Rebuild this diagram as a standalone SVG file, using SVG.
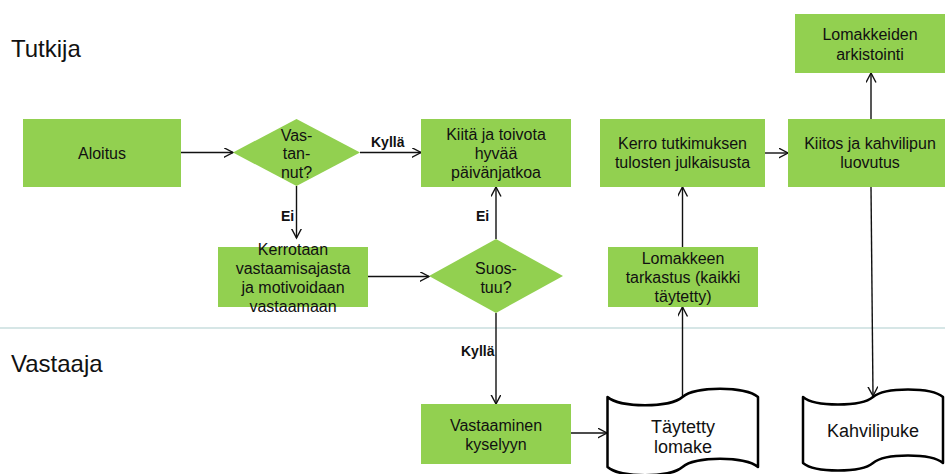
<svg xmlns="http://www.w3.org/2000/svg" width="945" height="474" viewBox="0 0 945 474">
  <defs>
    <style>
      .box { fill: #92D050; }
      .tape { fill: #ffffff; stroke: #000000; stroke-width: 2.5; stroke-linejoin: round; }
      .t { font-family: "Liberation Sans", Arial, sans-serif; font-size: 16px; fill: #111111; text-anchor: middle; }
      .tb { font-family: "Liberation Sans", Arial, sans-serif; font-size: 18px; fill: #111111; text-anchor: middle; }
      .lane { font-family: "Liberation Sans", Arial, sans-serif; font-size: 24px; fill: #111111; }
      .lbl { font-family: "Liberation Sans", Arial, sans-serif; font-size: 14px; font-weight: bold; fill: #111111; }
      .c { fill: none; stroke: #111111; stroke-width: 1.4; marker-end: url(#arr); }
    </style>
    <marker id="arr" markerUnits="userSpaceOnUse" markerWidth="12" markerHeight="12" refX="9.5" refY="5" orient="auto">
      <path d="M0,0 L9.5,5 L0,10" fill="none" stroke="#111111" stroke-width="1.4"/>
    </marker>
  </defs>

  <rect width="945" height="474" fill="#ffffff"/>

  <!-- swimlane divider and lane titles -->
  <line x1="0" y1="328" x2="945" y2="328" stroke="#d6e6e6" stroke-width="2"/>
  <text class="lane" x="11" y="57">Tutkija</text>
  <text class="lane" x="11" y="372">Vastaaja</text>

  <!-- connectors -->
  <g id="connectors">
    <line class="c" x1="181" y1="152.5" x2="233" y2="152.5"/>
    <line class="c" x1="360" y1="152.5" x2="421" y2="152.5"/>
    <line class="c" x1="296.5" y1="186" x2="296.5" y2="238"/>
    <line class="c" x1="368" y1="276.5" x2="429" y2="276.5"/>
    <line class="c" x1="496" y1="239" x2="496" y2="187"/>
    <line class="c" x1="496" y1="313" x2="496" y2="404"/>
    <line class="c" x1="571" y1="433" x2="607" y2="433"/>
    <line class="c" x1="682.5" y1="397" x2="682.5" y2="307"/>
    <line class="c" x1="682.5" y1="247" x2="682.5" y2="187"/>
    <line class="c" x1="765" y1="153" x2="788" y2="153"/>
    <line class="c" x1="871" y1="119" x2="871" y2="73"/>
    <line class="c" x1="871" y1="187" x2="873" y2="396"/>
    <text class="lbl" x="371" y="147">Kyllä</text>
    <text class="lbl" x="281" y="221">Ei</text>
    <text class="lbl" x="476" y="221">Ei</text>
    <text class="lbl" x="461" y="356">Kyllä</text>
  </g>

  <!-- Tutkija lane -->
  <g id="aloitus">
    <rect class="box" x="23" y="119" width="158" height="68"/>
    <text class="t" x="102" y="158.5">Aloitus</text>
  </g>

  <g id="vastannut">
    <polygon class="box" points="233,152.5 296.5,119 360,152.5 296.5,186"/>
    <text class="t" x="296.5" y="140.5">Vas-</text>
    <text class="t" x="296.5" y="159">tan-</text>
    <text class="t" x="296.5" y="177.5">nut?</text>
  </g>

  <g id="kiita">
    <rect class="box" x="421" y="119" width="150" height="68"/>
    <text class="t" x="496" y="140">Kiitä ja toivota</text>
    <text class="t" x="496" y="159">hyvää</text>
    <text class="t" x="496" y="178">päivänjatkoa</text>
  </g>

  <g id="kerrotaan">
    <rect class="box" x="218" y="247" width="150" height="60"/>
    <text class="t" x="293" y="254.5">Kerrotaan</text>
    <text class="t" x="293" y="273.5">vastaamisajasta</text>
    <text class="t" x="293" y="292.5">ja motivoidaan</text>
    <text class="t" x="293" y="311.5">vastaamaan</text>
  </g>

  <g id="suostuu">
    <polygon class="box" points="429,276 496,239 563,276 496,313"/>
    <text class="t" x="496" y="274">Suos-</text>
    <text class="t" x="496" y="293">tuu?</text>
  </g>

  <g id="kerro">
    <rect class="box" x="600" y="119" width="165" height="68"/>
    <text class="t" x="682.5" y="149">Kerro tutkimuksen</text>
    <text class="t" x="682.5" y="168">tulosten julkaisusta</text>
  </g>

  <g id="tarkastus">
    <rect class="box" x="608" y="247" width="150" height="60"/>
    <text class="t" x="683" y="264">Lomakkeen</text>
    <text class="t" x="683" y="283">tarkastus (kaikki</text>
    <text class="t" x="683" y="302">täytetty)</text>
  </g>

  <g id="kiitos">
    <rect class="box" x="788" y="119" width="160" height="68"/>
    <text class="t" x="870" y="149">Kiitos ja kahvilipun</text>
    <text class="t" x="870" y="168">luovutus</text>
  </g>

  <g id="arkistointi">
    <rect class="box" x="795" y="14" width="153" height="59"/>
    <text class="t" x="870" y="40">Lomakkeiden</text>
    <text class="t" x="870" y="60">arkistointi</text>
  </g>

  <!-- Vastaaja lane -->
  <g id="vastaaminen">
    <rect class="box" x="421" y="404" width="150" height="60"/>
    <text class="t" x="496" y="430.5">Vastaaminen</text>
    <text class="t" x="496" y="449.5">kyselyyn</text>
  </g>

  <g id="taytetty">
    <path class="tape" d="M607.5,397 C620,408 670,408 682.5,397 C695,386 745,386 758,397 L758,467 C745,456 695,456 682.5,467 C670,478 620,478 607.5,467 Z"/>
    <text class="tb" x="683" y="433">Täytetty</text>
    <text class="tb" x="683" y="453">lomake</text>
  </g>

  <g id="kahvilipuke">
    <path class="tape" d="M803,397 C815,407 861,407 873,397 C885,387 931,387 943,397 L943,463 C931,453 885,453 873,463 C861,473 815,473 803,463 Z"/>
    <text class="tb" x="873" y="437">Kahvilipuke</text>
  </g>
</svg>
